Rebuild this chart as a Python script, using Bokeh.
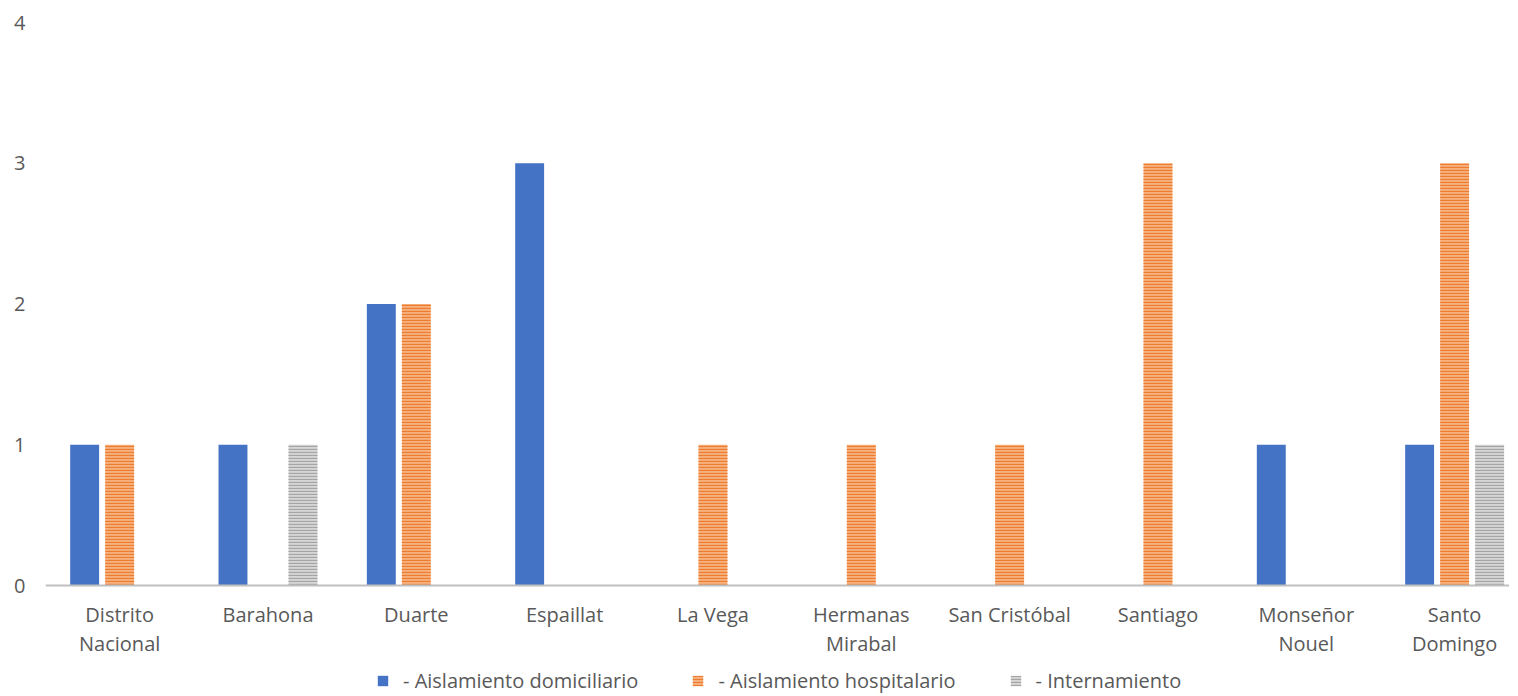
import numpy as np
from bokeh.plotting import figure
from bokeh.models import Range1d, FixedTicker, Legend, LegendItem, ColumnDataSource, Span
from bokeh.core.properties import value
from bokeh.embed import file_html
from bokeh.resources import INLINE

categories = ["Distrito\nNacional", "Barahona", "Duarte", "Espaillat", "La Vega",
              "Hermanas\nMirabal", "San Cristóbal", "Santiago", "Monseñor\nNouel", "Santo\nDomingo"]
domiciliario = [1, 1, 2, 3, 0, 0, 0, 0, 1, 1]
hospitalario = [1, 0, 2, 0, 1, 1, 1, 3, 0, 3]
internamiento = [0, 1, 0, 0, 0, 0, 0, 0, 0, 1]
series_names = ["- Aislamiento domiciliario", "- Aislamiento hospitalario", "- Internamiento"]
y_ticks = [0, 1, 2, 3, 4]

FONT = "Open Sans"
TXT = "#595959"
FS = "20px"

p = figure(frame_width=1464, frame_height=672, output_backend="svg", toolbar_location=None,
           x_range=Range1d(0, 9.87), y_range=Range1d(-0.774, 4),
           x_axis_location=None,
           min_border_left=45, min_border_right=0, min_border_top=22, min_border_bottom=0)
p.outline_line_color = None
p.xgrid.visible = False
p.ygrid.visible = False

centers = np.arange(len(categories)) + 0.5
w = 0.195
off = 0.236

styles = [
    dict(fill_color="#4472C4"),
    dict(fill_color="#F6B07E", hatch_pattern="horizontal_line", hatch_color="#ED7D31",
         hatch_scale=3, hatch_weight=1.3),
    dict(fill_color="#D6D6D6", hatch_pattern="horizontal_line", hatch_color="#A5A5A5",
         hatch_scale=3, hatch_weight=1.3),
]
renderers = []
for k, vals in enumerate([domiciliario, hospitalario, internamiento]):
    src = ColumnDataSource(dict(x=centers + (k - 1) * off, top=vals))
    r = p.vbar(x="x", top="top", bottom=0, width=w, source=src, line_color=None, **styles[k])
    renderers.append(r)

# category axis (baseline + labels)
p.add_layout(Span(location=0, dimension="width", line_color="#BFBFBF", line_width=2))
lab_src = ColumnDataSource(dict(x=centers, y=np.zeros(len(categories)), text=categories))
p.text(x="x", y="y", text="text", source=lab_src, y_offset=15,
       text_align="center", text_baseline="top", text_line_height=1.1,
       text_font=value(FONT), text_font_size=FS, text_color=TXT)

# y axis
p.yaxis.ticker = FixedTicker(ticks=y_ticks)
p.yaxis.axis_line_color = None
p.yaxis.major_tick_line_color = None
p.yaxis.minor_tick_line_color = None
p.yaxis.major_label_text_font = FONT
p.yaxis.major_label_text_font_size = FS
p.yaxis.major_label_text_color = TXT
p.yaxis.major_label_standoff = 14

legend = Legend(items=[LegendItem(label=n, renderers=[r]) for n, r in zip(series_names, renderers)],
                orientation="horizontal", location=(331, 0),
                label_text_font=FONT, label_text_font_size=FS, label_text_color=TXT,
                glyph_width=13, glyph_height=13, label_standoff=14, spacing=53,
                border_line_color=None, background_fill_alpha=0, padding=0, margin=0)
p.add_layout(legend, "center")

open("out.html", "w").write(file_html(p, INLINE))
